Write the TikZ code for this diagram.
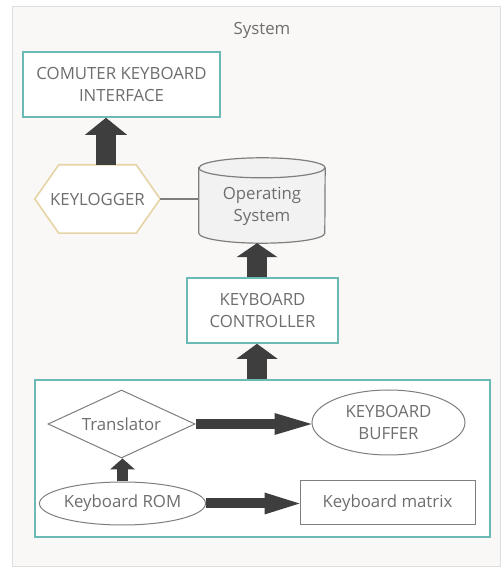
\documentclass[tikz,border=0pt]{standalone}
\usepackage{fontspec}
\setmainfont{Open Sans}
\usetikzlibrary{shapes.geometric,arrows.meta,calc}
\definecolor{tealc}{HTML}{6CBAB5}
\definecolor{tanc}{HTML}{E6D4A6}
\definecolor{txtc}{HTML}{6E6E6E}
\definecolor{grayc}{HTML}{7E7E7E}
\definecolor{arrc}{HTML}{3E3E3E}
\definecolor{bgc}{HTML}{F9F8F6}
\definecolor{framec}{HTML}{DEDEDE}
\definecolor{cylc}{HTML}{F2F2F2}
\pgfdeclarelayer{back}
\pgfdeclarelayer{shapes}
\pgfsetlayers{back,shapes,main}
\tikzset{
  tbox/.style={draw=tealc, line width=1.6pt, fill=white, inner sep=0pt, align=center},
  gbox/.style={draw=grayc, line width=1pt, fill=white, inner sep=0pt, align=center},
  plain/.style={inner sep=0pt, align=center},
  fat/.style n args={3}{draw=arrc, line width=#1, -{Triangle[width=#2, length=#3, line width=0pt, fill=arrc]}},
  thinline/.style={draw=grayc, line width=1.2pt},
}
\begin{document}
\begin{tikzpicture}[x=1pt, y=1pt, font=\fontsize{16.8}{21.5}\selectfont, text=txtc]
\useasboundingbox (0,0) rectangle (502,571);
\begin{pgfonlayer}{back}
\fill[white] (0,0) rectangle (502,571);
% outer frame
\node[draw=framec, fill=bgc, line width=1pt, minimum width=488pt, minimum height=560pt, inner sep=0pt] (sys) at (256,284) {};
\end{pgfonlayer}
\node[plain] (systitle) at (262,541) {System};
% top box
\node[tbox, minimum width=197pt, minimum height=65pt] (ki) at (121.5,486.5) {COMUTER KEYBOARD\\INTERFACE};
% keylogger hexagon
\node[plain, minimum width=125pt, minimum height=68pt] (kl) at (97.5,372) {KEYLOGGER};
% operating system cylinder
\node[plain, minimum width=126pt, minimum height=85pt] (os) at (262,370.5) {};
\node[plain] (ostext) at ([yshift=-6pt]os.center) {Operating\\System};
\begin{pgfonlayer}{shapes}
  \filldraw[draw=tanc, fill=white, line width=1.6pt]
    (kl.west) -- ([xshift=24pt]kl.north west) -- ([xshift=-24pt]kl.north east)
    -- (kl.east) -- ([xshift=-24pt]kl.south east) -- ([xshift=24pt]kl.south west) -- cycle;
  \filldraw[draw=grayc, fill=cylc, line width=1.2pt]
    ([yshift=-10pt]os.north west) -- ([yshift=10pt]os.south west)
    arc[start angle=180, end angle=360, x radius=63pt, y radius=10pt]
    -- ([yshift=-10pt]os.north east)
    arc[start angle=0, end angle=180, x radius=63pt, y radius=10pt] -- cycle;
  \draw[draw=grayc, line width=1.2pt] ([yshift=-10pt]os.north west)
    arc[start angle=180, end angle=360, x radius=63pt, y radius=10pt];
\end{pgfonlayer}
% controller
\node[tbox, minimum width=151pt, minimum height=65pt] (ctrl) at (262.5,260.5) {KEYBOARD\\CONTROLLER};
% keyboard container
\node[tbox, minimum width=455pt, minimum height=157pt] (kb) at (262.5,112.5) {};
\node[gbox, diamond, aspect=2.16, minimum width=147pt, minimum height=68pt] (tr) at (121.5,147) {Translator};
\node[gbox, ellipse, minimum width=153pt, minimum height=65pt] (buf) at (388.5,148.5) {KEYBOARD\\BUFFER};
\node[gbox, ellipse, minimum width=149pt, minimum height=43pt] (rom) at (122.5,67.5) {Keyboard ROM};
\node[gbox, minimum width=175pt, minimum height=44pt] (mat) at (387.5,68) {Keyboard matrix};
% connectors
\draw[thinline] (kl.east) -- (kl.east -| os.west);
\draw[fat={20pt}{42pt}{17pt}] ([xshift=8.5pt]kl.north) -- ([xshift=-15.5pt]ki.south);
\draw[fat={20pt}{41pt}{14pt}] ([xshift=-5.5pt]ctrl.north) -- ([xshift=-5pt]os.south);
\draw[fat={20pt}{41pt}{15pt}] ([xshift=-5.5pt]kb.north) -- ([xshift=-5.5pt]ctrl.south);
\draw[fat={9.5pt}{22pt}{37pt}] (tr.east) -- (tr.east -| buf.west);
\draw[fat={11pt}{25pt}{11pt}] (rom.north) -- (rom.north |- tr.south);
\draw[fat={10pt}{22pt}{35pt}] (rom.east) -- (rom.east -| mat.west);
\end{tikzpicture}
\end{document}
